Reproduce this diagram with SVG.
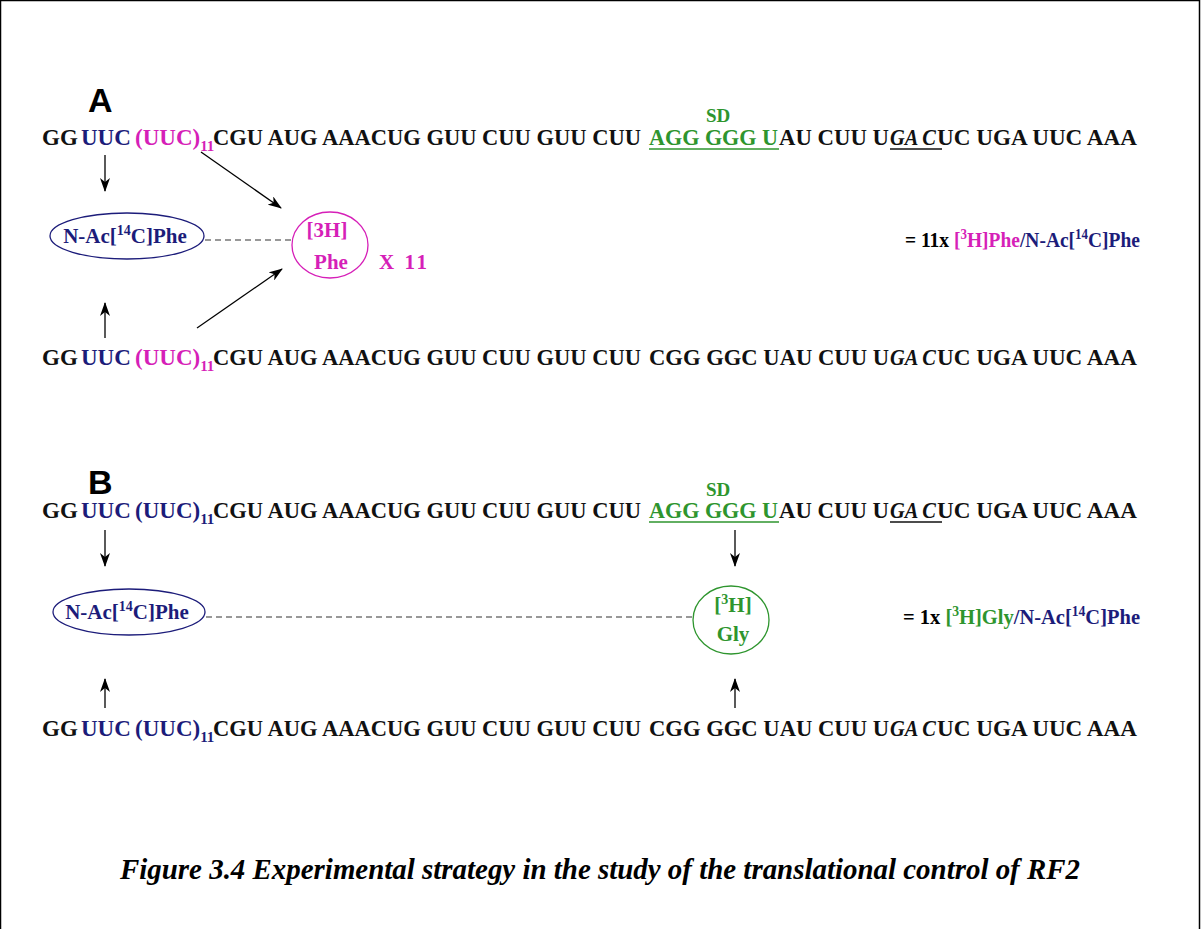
<svg xmlns="http://www.w3.org/2000/svg" width="1201" height="929" viewBox="0 0 1201 929">
<style>
.seq{font-family:"Liberation Serif","Times New Roman",serif;font-weight:bold;font-size:23px;fill:#111}
.nv{fill:#1c1c7a}
.mg{fill:#d61fb8}
.gr{fill:#2e952e}
.sub{font-size:15px}
.it{font-style:italic}
.lab{font-family:"Liberation Sans",Arial,sans-serif;font-weight:900;font-size:34px;fill:#000}
.sd{font-family:"Liberation Serif",serif;font-weight:bold;font-size:19px;fill:#2e952e}
.nt{font-family:"Liberation Serif",serif;font-weight:bold;font-size:21px}
.sup{font-size:14px}
.arr{stroke:#000;stroke-width:1.3;fill:none;marker-end:url(#ah)}
.dash{stroke:#333;stroke-width:1.2;stroke-dasharray:6 4}
.cap{font-family:"Liberation Serif","Times New Roman",serif;font-weight:bold;font-style:italic;font-size:28.5px;fill:#000}
</style>
<defs>
<marker id="ah" markerWidth="14" markerHeight="10" refX="13" refY="5" orient="auto" markerUnits="userSpaceOnUse">
<path d="M0,0 L14,5 L0,10 L4,5 z" fill="#000"/>
</marker>
</defs>
<rect x="0" y="0" width="1201" height="929" fill="#fff"/>
<rect x="0.5" y="0.5" width="1199" height="960" fill="none" stroke="#000" stroke-width="1.5"/>

<g id="partA">
<text class="lab" x="88" y="112">A</text>
<text class="sd" x="706" y="122">SD</text>
<g id="seqA1">
<text class="seq" x="42" y="145">GG</text>
<text class="seq nv" x="81" y="145">UUC</text>
<text class="seq mg" x="135" y="145">(UUC)<tspan class="sub" dy="6">11</tspan></text>
<text class="seq" x="213" y="145" textLength="428" lengthAdjust="spacingAndGlyphs">CGU AUG AAACUG GUU CUU GUU CUU</text>
<text class="seq gr" x="649" y="145" textLength="129" lengthAdjust="spacingAndGlyphs">AGG GGG U</text>
<text class="seq" x="779" y="145" textLength="110" lengthAdjust="spacingAndGlyphs">AU CUU U</text>
<text class="seq it" x="890" y="145" textLength="46" lengthAdjust="spacingAndGlyphs">GA C</text>
<text class="seq" x="937" y="145" textLength="200" lengthAdjust="spacingAndGlyphs">UC UGA UUC AAA</text>
<line x1="649" y1="149" x2="779" y2="149" stroke="#2e952e" stroke-width="1.5"/>
<line x1="890" y1="149" x2="942" y2="149" stroke="#111" stroke-width="1.5"/>
</g>
<g id="ellA">
<ellipse cx="127" cy="236" rx="77" ry="23" fill="none" stroke="#1c1c7a" stroke-width="1.3"/>
<text class="nt nv" x="125" y="243" text-anchor="middle">N-Ac[<tspan class="sup" dy="-8">14</tspan><tspan dy="8">C]Phe</tspan></text>
</g>
<g id="circA">
<ellipse cx="330" cy="245" rx="38" ry="33" fill="none" stroke="#d61fb8" stroke-width="1.3"/>
<text class="nt mg" x="327" y="237" text-anchor="middle">[3H]</text>
<text class="nt mg" x="331" y="269" text-anchor="middle">Phe</text>
<text class="nt mg" x="379" y="269" textLength="48">X 11</text>
</g>
<g id="eqA">
<text class="nt" x="905" y="247" textLength="235" lengthAdjust="spacingAndGlyphs">= 11x <tspan class="mg">[<tspan class="sup" dy="-8">3</tspan><tspan dy="8">H]Phe</tspan></tspan><tspan class="nv">/N-Ac[<tspan class="sup" dy="-8">14</tspan><tspan dy="8">C]Phe</tspan></tspan></text>
</g>
<g id="seqA2">
<text class="seq" x="42" y="365">GG</text>
<text class="seq nv" x="81" y="365">UUC</text>
<text class="seq mg" x="135" y="365">(UUC)<tspan class="sub" dy="6">11</tspan></text>
<text class="seq" x="213" y="365" textLength="428" lengthAdjust="spacingAndGlyphs">CGU AUG AAACUG GUU CUU GUU CUU</text>
<text class="seq" x="649" y="365" textLength="240" lengthAdjust="spacingAndGlyphs">CGG GGC UAU CUU U</text>
<text class="seq it" x="890" y="365" textLength="46" lengthAdjust="spacingAndGlyphs">GA C</text>
<text class="seq" x="937" y="365" textLength="200" lengthAdjust="spacingAndGlyphs">UC UGA UUC AAA</text>
</g>
</g>

<g id="partB">
<text class="lab" x="88" y="494">B</text>
<text class="sd" x="706" y="496">SD</text>
<g id="seqB1">
<text class="seq" x="42" y="518">GG</text>
<text class="seq nv" x="81" y="518">UUC</text>
<text class="seq nv" x="135" y="518">(UUC)<tspan class="sub" dy="6">11</tspan></text>
<text class="seq" x="213" y="518" textLength="428" lengthAdjust="spacingAndGlyphs">CGU AUG AAACUG GUU CUU GUU CUU</text>
<text class="seq gr" x="649" y="518" textLength="129" lengthAdjust="spacingAndGlyphs">AGG GGG U</text>
<text class="seq" x="779" y="518" textLength="110" lengthAdjust="spacingAndGlyphs">AU CUU U</text>
<text class="seq it" x="890" y="518" textLength="46" lengthAdjust="spacingAndGlyphs">GA C</text>
<text class="seq" x="937" y="518" textLength="200" lengthAdjust="spacingAndGlyphs">UC UGA UUC AAA</text>
<line x1="649" y1="522" x2="779" y2="522" stroke="#2e952e" stroke-width="1.5"/>
<line x1="890" y1="522" x2="942" y2="522" stroke="#111" stroke-width="1.5"/>
</g>
<g id="ellB">
<ellipse cx="129" cy="612" rx="76" ry="23" fill="none" stroke="#1c1c7a" stroke-width="1.3"/>
<text class="nt nv" x="127" y="619" text-anchor="middle">N-Ac[<tspan class="sup" dy="-8">14</tspan><tspan dy="8">C]Phe</tspan></text>
</g>
<g id="circB">
<ellipse cx="731" cy="620" rx="38" ry="34" fill="none" stroke="#2e952e" stroke-width="1.3"/>
<text class="nt gr" x="733" y="612" text-anchor="middle">[<tspan class="sup" dy="-8">3</tspan><tspan dy="8">H]</tspan></text>
<text class="nt gr" x="733" y="641" text-anchor="middle">Gly</text>
</g>
<g id="eqB">
<text class="nt" x="903" y="624" textLength="237" lengthAdjust="spacingAndGlyphs">= 1x <tspan class="gr">[<tspan class="sup" dy="-8">3</tspan><tspan dy="8">H]Gly</tspan></tspan><tspan class="nv">/N-Ac[<tspan class="sup" dy="-8">14</tspan><tspan dy="8">C]Phe</tspan></tspan></text>
</g>
<g id="seqB2">
<text class="seq" x="42" y="736">GG</text>
<text class="seq nv" x="81" y="736">UUC</text>
<text class="seq nv" x="135" y="736">(UUC)<tspan class="sub" dy="6">11</tspan></text>
<text class="seq" x="213" y="736" textLength="428" lengthAdjust="spacingAndGlyphs">CGU AUG AAACUG GUU CUU GUU CUU</text>
<text class="seq" x="649" y="736" textLength="240" lengthAdjust="spacingAndGlyphs">CGG GGC UAU CUU U</text>
<text class="seq it" x="890" y="736" textLength="46" lengthAdjust="spacingAndGlyphs">GA C</text>
<text class="seq" x="937" y="736" textLength="200" lengthAdjust="spacingAndGlyphs">UC UGA UUC AAA</text>
</g>
</g>

<g id="connectors">
<line class="arr" x1="105" y1="155" x2="105" y2="191"/>
<line class="arr" x1="105" y1="338" x2="105" y2="303"/>
<line class="arr" x1="201" y1="152" x2="281" y2="208"/>
<line class="arr" x1="197" y1="328" x2="282" y2="269"/>
<line class="dash" x1="205" y1="240" x2="291" y2="240"/>
<line class="arr" x1="105" y1="530" x2="105" y2="566"/>
<line class="arr" x1="735" y1="530" x2="735" y2="566"/>
<line class="arr" x1="105" y1="708" x2="105" y2="679"/>
<line class="arr" x1="735" y1="708" x2="735" y2="679"/>
<line class="dash" x1="206" y1="617" x2="693" y2="617"/>
</g>

<text class="cap" x="120" y="879" textLength="960" lengthAdjust="spacingAndGlyphs">Figure 3.4 Experimental strategy in the study of the translational control of RF2</text>
</svg>
